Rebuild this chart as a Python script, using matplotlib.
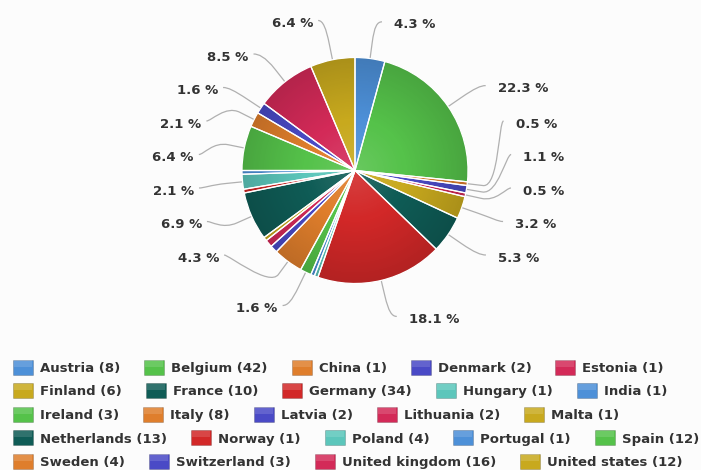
import numpy as np
import matplotlib
matplotlib.use("Agg")
import matplotlib.pyplot as plt
from matplotlib.patches import Circle, Rectangle, PathPatch
from matplotlib.path import Path

# ---------------- data ----------------
countries = ["Austria", "Belgium", "China", "Denmark", "Estonia", "Finland",
             "France", "Germany", "Hungary", "India", "Ireland", "Italy",
             "Latvia", "Lithuania", "Malta", "Netherlands", "Norway", "Poland",
             "Portugal", "Spain", "Sweden", "Switzerland", "United kingdom",
             "United states"]
counts = [8, 42, 1, 2, 1, 6, 10, 34, 1, 1, 3, 8, 2, 2, 1, 13, 1, 4, 1, 12,
          4, 3, 16, 12]
legend_per_row = 5

# ---------------- style ----------------
palette = ["#4d90d8", "#55c24a", "#df7e2c", "#4a4ac6", "#d32a58",
           "#c8a91e", "#0f5c56", "#d22828", "#5cc6bb"]
colors = [palette[i % len(palette)] for i in range(len(counts))]
bg = "#fcfcfc"
text_col = "#333333"
conn_col = "#b0b0b0"
FONT = "DejaVu Sans"

W, H = 701, 470
fig = plt.figure(figsize=(W / 100, H / 100), dpi=100, facecolor=bg)
ax = fig.add_axes([0, 0, 1, 1])
ax.set_facecolor(bg)

# pie geometry (pixel coords, y down) -> data coords (y up)
cx, cy_px, r = 355.0, 170.5, 113.0
cy = H - cy_px
dist = 37.0
R = r + dist
lab_h = 33.5

total = float(sum(counts))
ax.pie(counts, colors=colors, startangle=90, counterclock=False,
       center=(cx, cy), radius=r, wedgeprops=dict(linewidth=0), frame=True)

# radial shading like a gradient fill
n = 400
yy, xx = np.mgrid[-1:1:n * 1j, -1:1:n * 1j]
d = np.clip(np.sqrt(xx ** 2 + yy ** 2), 0, 1)
s = 0.12 - 0.27 * d
rgba = np.zeros((n, n, 4))
rgba[..., :3] = np.where(s[..., None] > 0, 1.0, 0.0)
rgba[..., 3] = np.abs(s)
im = ax.imshow(rgba, extent=(cx - r, cx + r, cy - r, cy + r), origin="lower",
               zorder=2, interpolation="bilinear")
im.set_clip_path(Circle((cx, cy), r, transform=ax.transData))

wedges_e, _ = ax.pie(counts, colors=colors, startangle=90, counterclock=False,
                     center=(cx, cy), radius=r, frame=True,
                     wedgeprops=dict(fill=False, edgecolor="white", linewidth=0.9))
for w in wedges_e:
    w.set_zorder(3)

ax.set_xlim(0, W)
ax.set_ylim(0, H)
ax.set_aspect("auto")
ax.axis("off")

# ---------------- data labels (slot distribution) ----------------
fr = np.array(counts) / total
ends = np.cumsum(fr)
mids = (ends - fr / 2) * 2 * np.pi  # clockwise from top


def place(points, left):
    slots = []
    pos = cy_px - R
    while pos <= cy_px + R:
        slots.append(pos)
        pos += lab_h
    ns = len(slots)
    if len(points) > ns:
        rank = sorted(points, key=lambda i: -counts[i])
        keep = set(rank[:ns])
        points = [p for p in points if p in keep]
    nn = len(points)
    nat = {i: cy_px - R * np.cos(mids[i]) for i in points}
    avail = list(slots)
    used = []
    for j in range(nn - 1, -1, -1):
        i = points[j]
        ny = nat[i]
        best, si = 1e9, 0
        for k in range(ns):
            val = avail[k] if avail[k] is not None else 0.0
            dd = abs(val - ny)
            if dd < best:
                best, si = dd, k
        if si < j and avail[j] is not None:
            si = j
        elif ns < nn - j + si and avail[j] is not None:
            si = ns - nn + j
            while si < ns - 1 and avail[si] is None:
                si += 1
        else:
            while si < ns - 1 and avail[si] is None:
                si += 1
        used.append((si, slots[si]))
        avail[si] = None
    used.sort(key=lambda t: t[1])
    out = []
    for j, i in enumerate(points):
        si, y = used[j]
        ny = nat[i]
        nxt_free = si + 1 >= ns or avail[si + 1] is not None
        prv_free = si - 1 < 0 or avail[si - 1] is not None
        if (ny > y and nxt_free) or (ny < y and prv_free):
            y = ny
        yx = ny if (si == 0 or si == ns - 1) else y
        ang = np.arcsin(np.clip((yx - cy_px) / R, -1, 1))
        x = cx + (-1 if left else 1) * np.cos(ang) * R
        out.append((i, x, y))
    return out


right_pts = [i for i in range(len(counts)) if mids[i] < np.pi]
left_pts = [i for i in range(len(counts)) if mids[i] >= np.pi][::-1]

label_fs = 9.5
for pts, left in ((right_pts, False), (left_pts, True)):
    for i, x, y in place(pts, left):
        sgn = -1 if left else 1
        a = mids[i]
        base = (cx + r * np.sin(a), cy_px - r * np.cos(a))
        b2 = (cx + (r + 16) * np.sin(a), cy_px - (r + 16) * np.cos(a))
        c2 = (2 * b2[0] - base[0], 2 * b2[1] - base[1])
        p0 = (x + sgn * 7, y)
        c1 = (x + sgn * 2, y)
        verts = [p0, c1, c2, b2, base]
        verts = [(vx, H - vy) for vx, vy in verts]
        codes = [Path.MOVETO, Path.CURVE4, Path.CURVE4, Path.CURVE4, Path.LINETO]
        ax.add_patch(PathPatch(Path(verts, codes), fill=False, edgecolor=conn_col,
                               linewidth=0.9, zorder=1))
        pct = 100.0 * counts[i] / total
        tx = x + (19 if not left else -12)
        ax.text(tx, H - (y + 2 + 4.6), f"{pct:.1f} %", ha="left" if not left else "right",
                va="baseline", fontsize=label_fs, fontweight="bold", color=text_col,
                family=FONT, zorder=4)

# ---------------- legend (flow layout) ----------------
fig.canvas.draw()
renderer = fig.canvas.get_renderer()
inv = ax.transData.inverted()
row_y0, row_dy = 367.0, 23.5
x_start = 13.0
leg_fs = 9.5
xcur = x_start
for k, (name, c, col) in enumerate(zip(countries, counts, colors)):
    row, pos_in_row = divmod(k, legend_per_row)
    if pos_in_row == 0:
        xcur = x_start
    yc = row_y0 + row * row_dy
    ax.add_patch(Rectangle((xcur, H - (yc + 7.5)), 20, 15, facecolor=col,
                           edgecolor="#00000033", linewidth=0.6, zorder=3))
    ax.add_patch(Rectangle((xcur + 1, H - (yc - 0.5)), 18, 6.5, facecolor="white",
                           alpha=0.14, linewidth=0, zorder=4))
    t = ax.text(xcur + 27, H - (yc + 5), f"{name} ({c})", ha="left", va="baseline",
                fontsize=leg_fs, fontweight="bold", color=text_col, family=FONT)
    bb = t.get_window_extent(renderer=renderer)
    x1 = inv.transform((bb.x1, bb.y1))[0]
    xcur = x1 + 24

fig.savefig("out.png", dpi=100, facecolor=bg)
